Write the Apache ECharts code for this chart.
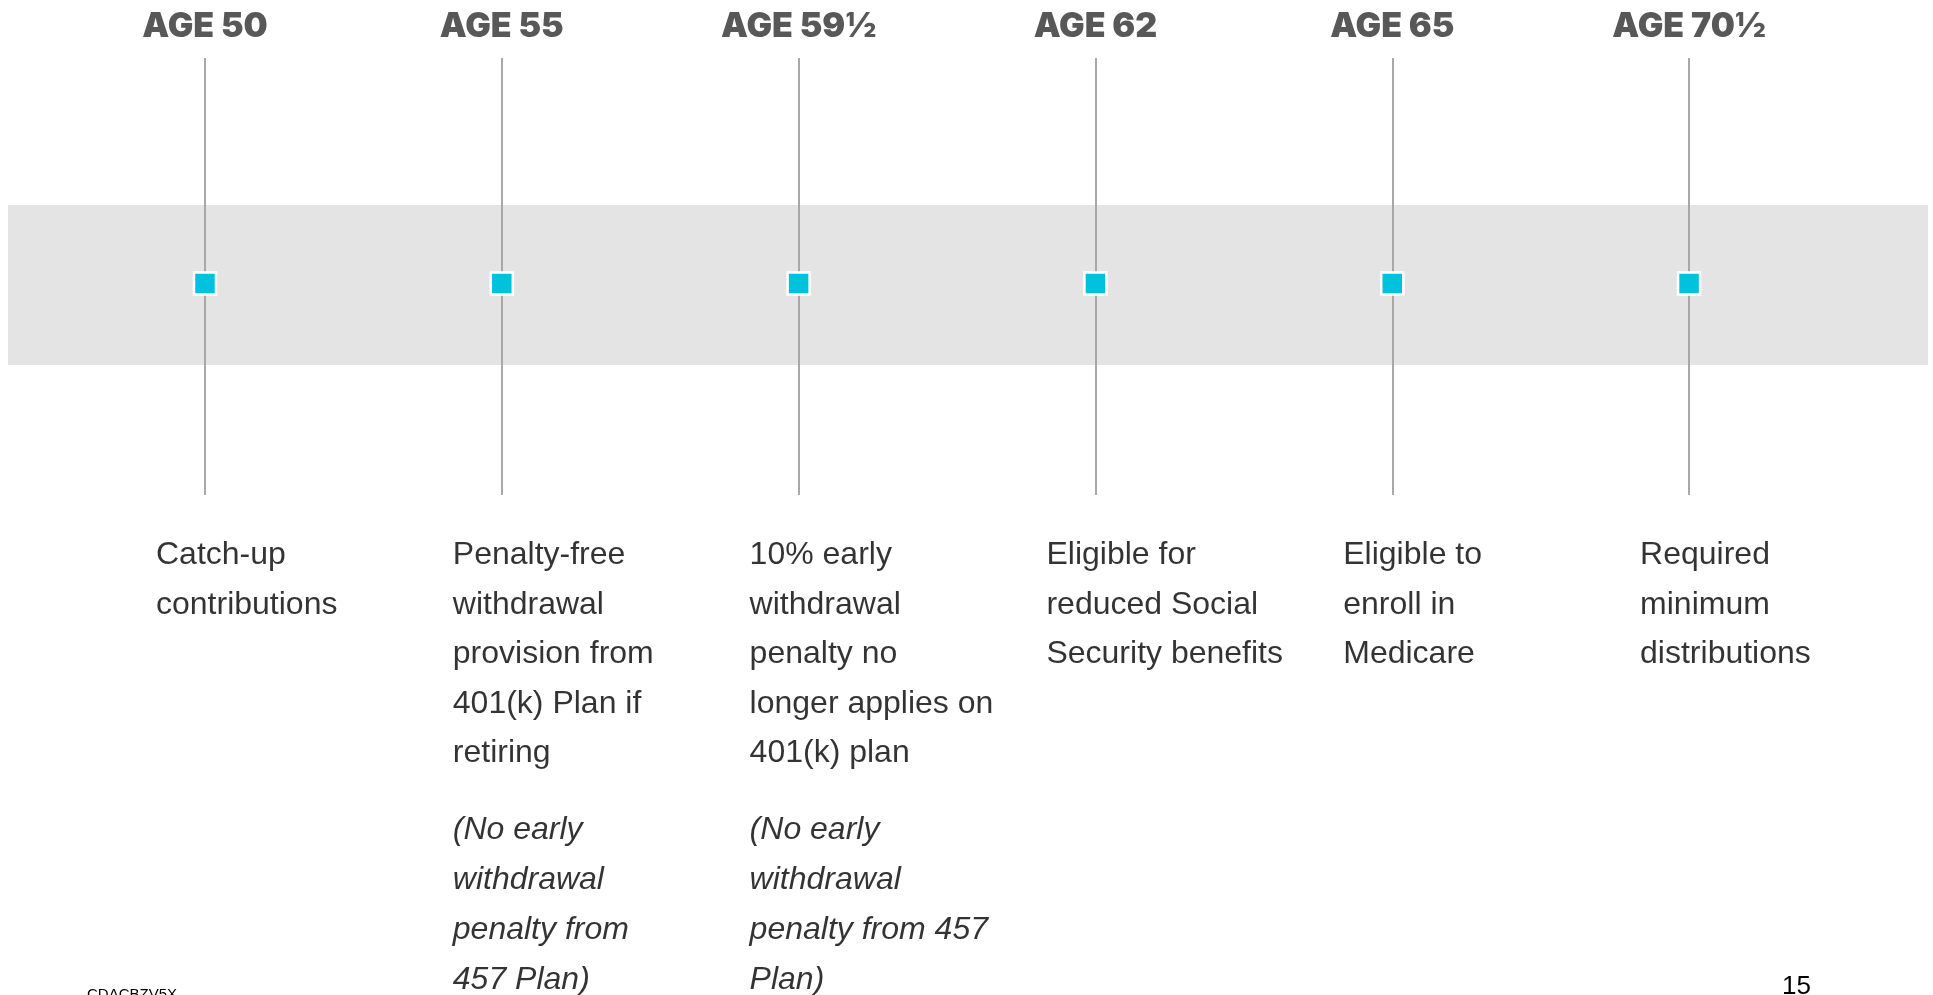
<!DOCTYPE html>
<html>
<head>
<meta charset="utf-8">
<script src="https://cdn.jsdelivr.net/npm/echarts@6/dist/echarts.min.js"></script>
<style>
html,body{margin:0;padding:0;background:#fff;}
#chart{width:1933px;height:995px;}
</style>
</head>
<body>
<div id="chart"></div>
<script>
// ---- data ----
const ages = ['AGE 50', 'AGE 55', 'AGE 59½', 'AGE 62', 'AGE 65', 'AGE 70½'];
const milestoneIndex = [0, 1, 2, 3, 4, 5];
const descriptions = [
  ['Catch-up', 'contributions'],
  ['Penalty-free', 'withdrawal', 'provision from', '401(k) Plan if', 'retiring'],
  ['10% early', 'withdrawal', 'penalty no', 'longer applies on', '401(k) plan'],
  ['Eligible for', 'reduced Social', 'Security benefits'],
  ['Eligible to', 'enroll in', 'Medicare'],
  ['Required', 'minimum', 'distributions']
];
const notes = [
  [],
  ['(No early', 'withdrawal', 'penalty from', '457 Plan)'],
  ['(No early', 'withdrawal', 'penalty from 457', 'Plan)'],
  [],
  [],
  []
];
const bandRange = [29.75, 66.36];   // y-extent of the grey band (axis units 0-100)
const markerLevel = 48.4;           // y of the cyan markers
const axisTop = 100;
const axisBottom = 0;
const footerCode = 'CDACBZV5X';
const pageNumber = '15';

// ---- chart ----
const chart = echarts.init(document.getElementById('chart'), null, {renderer: 'canvas'});

const markerData = milestoneIndex.map(i => [i, markerLevel]);
const titleData = milestoneIndex.map(i => [i, axisTop]);
const descData = milestoneIndex.map(i => [i, axisBottom]);

const option = {
  animation: false,
  backgroundColor: '#ffffff',
  title: [
    {text: footerCode, left: 87, top: 987, padding: 0,
     textStyle: {fontFamily: 'Liberation Sans, Arial, sans-serif', fontSize: 15, fontWeight: 'normal', color: '#000'}},
    {text: pageNumber, left: 1782, top: 974, padding: 0,
     textStyle: {fontFamily: 'Liberation Sans, Arial, sans-serif', fontSize: 26, fontWeight: 'normal', color: '#000'}}
  ],
  grid: {left: 8, right: 5, top: 58, bottom: 500, containLabel: false},
  xAxis: {
    type: 'value', min: -0.6637, max: 5.805, show: false,
    splitLine: {show: false}
  },
  yAxis: {
    type: 'value', min: 0, max: 100, show: false,
    splitLine: {show: false}
  },
  series: [
    {
      type: 'line', data: [], z: 0, silent: true,
      markArea: {
        silent: true,
        itemStyle: {color: '#e4e4e4'},
        data: [[{xAxis: 'min', yAxis: bandRange[0]}, {xAxis: 'max', yAxis: bandRange[1]}]]
      }
    },
    {
      type: 'line', data: [], z: 1, silent: true,
      markLine: {
        silent: true, symbol: ['none', 'none'],
        label: {show: false},
        lineStyle: {color: '#a8a8a8', width: 2, type: 'solid'},
        data: milestoneIndex.map(i => ({xAxis: i}))
      }
    },
    {
      type: 'scatter', z: 5, silent: true,
      symbol: 'rect', symbolSize: 22,
      itemStyle: {color: '#00C1DE', borderColor: '#ffffff', borderWidth: 2.5, opacity: 1},
      data: markerData
    },
    {
      type: 'scatter', z: 6, silent: true,
      symbolSize: 1, itemStyle: {color: 'rgba(0,0,0,0)'},
      data: titleData,
      label: {
        show: true, position: 'top', distance: 14,
        formatter: p => ages[p.dataIndex],
        fontFamily: 'Inter, Roboto, Liberation Sans, Arial, sans-serif',
        fontWeight: 900, fontSize: 34, color: '#2e2e2e'
      }
    },
    {
      type: 'scatter', z: 6, silent: true,
      symbolSize: 1, itemStyle: {color: 'rgba(0,0,0,0)'},
      data: descData,
      label: {
        show: true, position: 'bottom', distance: 35,
        offset: [-49, 0], align: 'left', verticalAlign: 'top',
        color: '#000',
        formatter: p => {
          const i = p.dataIndex;
          let s = descriptions[i].map(l => '{n|' + l + '}').join('\n');
          if (notes[i].length) {
            s += '\n{g| }\n' + notes[i].map(l => '{it|' + l + '}').join('\n');
          }
          return s;
        },
        rich: {
          n: {fontFamily: 'Liberation Sans, Arial, sans-serif', fontSize: 32, lineHeight: 49.5, color: '#000'},
          it: {fontFamily: 'Liberation Sans, Arial, sans-serif', fontSize: 32, lineHeight: 50, fontStyle: 'italic', color: '#000'},
          g: {fontSize: 2, lineHeight: 27}
        }
      }
    }
  ]
};
chart.setOption(option);
</script>
</body>
</html>
